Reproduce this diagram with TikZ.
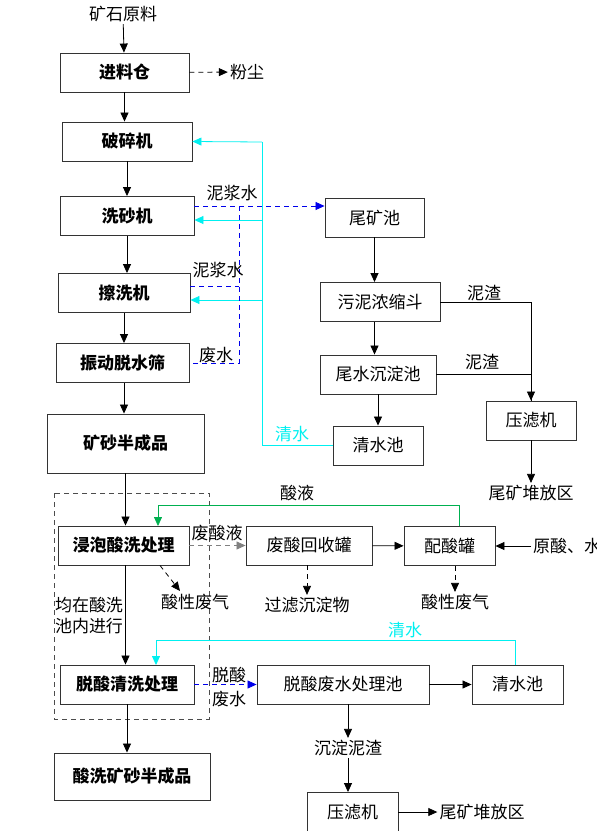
\documentclass[tikz,border=0pt]{standalone}
\usepackage{fontspec}
\setmainfont{Noto Sans CJK SC}
\usepackage{xcolor}
\usetikzlibrary{arrows.meta, positioning}
\definecolor{qingshui}{RGB}{0,240,240}
\definecolor{suanye}{RGB}{0,176,80}
\definecolor{nijiang}{RGB}{0,0,235}
\begin{document}
\begin{tikzpicture}[x=1pt,y=-1pt,
    every node/.style={font=\fontsize{17}{20}\selectfont, inner sep=2pt},
    box/.style={draw=black!80, line width=0.9pt, minimum height=39pt},
    bbox/.style={box, font=\fontsize{17}{20}\selectfont\bfseries},
    arr/.style={-{Triangle[length=9pt,width=8pt]}, line width=0.8pt},
    dsh/.style={dash pattern=on 5pt off 4pt},
    xian/.style={line width=0.8pt},
    qs/.style={qingshui, line width=0.8pt},
    nj/.style={nijiang, dsh, line width=0.8pt}]
    \useasboundingbox (0,0) rectangle (597,831);

    % left column
    \node (ksyl) at (123,14) {矿石原料};
    \node[bbox, minimum width=129pt] (jlc) at (124.5,72.5) {进料仓};
    \node (fc) at (247,72) {粉尘};
    \node[bbox, minimum width=130pt] (psj) at (127,141.5) {破碎机};
    \node[bbox, minimum width=134pt] (xsj) at (127,216) {洗砂机};
    \node[bbox, minimum width=132pt] (cxj) at (124,293) {擦洗机};
    \node[bbox, minimum width=133pt] (zdt) at (122.5,363) {振动脱水筛};
    \node[bbox, minimum width=157pt, minimum height=59pt] (kbcp) at (125.5,443.5) {矿砂半成品};

    \draw[arr] (ksyl) -- (jlc);
    \draw[arr, dsh] (jlc) -- (fc);
    \draw[arr] (jlc.south) -- (jlc.south |- psj.north);
    \draw[arr] (psj) -- (psj |- xsj.north);
    \draw[arr] (xsj.south -| psj) -- (cxj.north -| psj);
    \draw[arr] (cxj) -- (cxj |- zdt.north);
    \draw[arr] (cxj |- zdt.south) -- (cxj |- kbcp.north);

    % tailings side
    \node[box, minimum width=99pt] (wkc) at (374.5,217.5) {尾矿池};
    \node[box, minimum width=120pt] (wnns) at (380,302) {污泥浓缩斗};
    \node[box, minimum width=116pt] (wscd) at (378,374.5) {尾水沉淀池};
    \node[box, minimum width=90pt] (qsc) at (378,445.5) {清水池};
    \node[box, minimum width=90pt] (ylj) at (531,420.5) {压滤机};
    \node (wkdf) at (531,493) {尾矿堆放区};

    \draw[arr] (wkc) -- (wkc |- wnns.north);
    \draw[arr] (wkc |- wnns.south) -- (wkc |- wscd.north);
    \draw[arr] (wscd) -- (wscd |- qsc.north);
    \draw[xian] (wnns.east) -| (ylj.north);
    \draw[arr] (wscd.east) -| (ylj.north);
    \draw[arr] (ylj) -- (wkdf);
    \node at (484,293) {泥渣};
    \node at (482,362) {泥渣};

    % clear water back to the washers
    \coordinate (qsd) at (262,142);
    \draw[qs] (qsc.west) -| (qsd);
    \draw[qs, -{Triangle[length=9pt,width=8pt]}] (qsd) -- (psj.east);
    \draw[qs, -{Triangle[length=9pt,width=8pt]}] (qsd |- 0,220) -- (xsj.east |- 0,220);
    \draw[qs, -{Triangle[length=9pt,width=8pt]}] (qsd |- 0,300) -- (cxj.east |- 0,300);
    \node[text=qingshui] at (292,434) {清水};

    % slurry water to the tailings pond
    \coordinate (njd) at (239,206);
    \draw[nj, -{Triangle[length=9pt,width=8pt]}] (xsj.east |- njd) -- (wkc.west |- njd);
    \draw[nj] (njd) |- (zdt.east);
    \draw[nj] (cxj.east |- 0,286) -- (njd |- 0,286);
    \node at (232,193) {泥浆水};
    \node at (218,270) {泥浆水};
    \node at (216,355) {废水};

    % acid washing
    \draw[black!70, dsh, line width=0.8pt] (54,493) rectangle (209,719);
    \node[bbox, minimum width=131pt] (jpsx) at (123.5,545.5) {浸泡酸洗处理};
    \node[bbox, minimum width=134pt] (tsqx) at (127,684.5) {脱酸清洗处理};
    \node[bbox, minimum width=156pt, minimum height=47pt] (sxkb) at (132,776.5) {酸洗矿砂半成品};
    \node[align=left, font=\fontsize{17}{21}\selectfont] (jz) at (89,616) {均在酸洗\\池内进行};
    \node (sxfq1) at (195,602) {酸性废气};
    \coordinate (fqd) at (180,591);

    \draw[arr] (kbcp) -- (kbcp |- jpsx.north);
    \draw[arr] (kbcp |- jpsx.south) -- (kbcp |- tsqx.north);
    \draw[arr] (tsqx) -- (tsqx |- sxkb.north);
    \draw[arr, dsh] (jpsx.south -| 160,0) -- (fqd);

    \node[box, minimum width=126pt] (fshs) at (309,545.5) {废酸回收罐};
    \node[box, minimum width=91pt] (psg) at (449.5,546) {配酸罐};
    \node[anchor=west] (ysw) at (531,546) {原酸、水};
    \node (glcd) at (307,605) {过滤沉淀物};
    \node (sxfq2) at (455,602) {酸性废气};

    \draw[arr, gray, dsh] (jpsx) -- (fshs);
    \node at (217,533) {废酸液};
    \draw[arr] (fshs) -- (psg);
    \draw[arr] (ysw) -- (psg);
    \draw[arr, dsh] (fshs.south -| glcd) -- (glcd);
    \draw[arr, dsh] (psg.south -| sxfq2) -- (sxfq2);
    \draw[arr, suanye] (psg.north -| 459,0) |- (158,505) -- (158,526);
    \node at (297,493) {酸液};

    % acid removal water
    \node[box, minimum width=172pt] (tsfs) at (343,684.5) {脱酸废水处理池};
    \node[box, minimum width=91pt] (qsc2) at (517.5,684.5) {清水池};
    \node[align=center, font=\fontsize{17}{24}\selectfont] at (229,687) {脱酸\\废水};
    \node (cdnz) at (348,748) {沉淀泥渣};
    \node[box, minimum width=91pt] (ylj2) at (352.5,812) {压滤机};
    \node (wkdf2) at (482,812) {尾矿堆放区};

    \draw[arr, nijiang, dsh] (tsqx) -- (tsfs);
    \draw[arr] (tsfs) -- (qsc2);
    \draw[arr] (tsfs.south -| cdnz) -- (cdnz);
    \draw[arr] (cdnz) -- (cdnz |- ylj2.north);
    \draw[arr] (ylj2) -- (wkdf2);
    \draw[arr, qingshui] (qsc2.north -| 515,0) |- (156,640) -- (156,665);
    \node[text=qingshui] at (405,630) {清水};
\end{tikzpicture}
\end{document}
